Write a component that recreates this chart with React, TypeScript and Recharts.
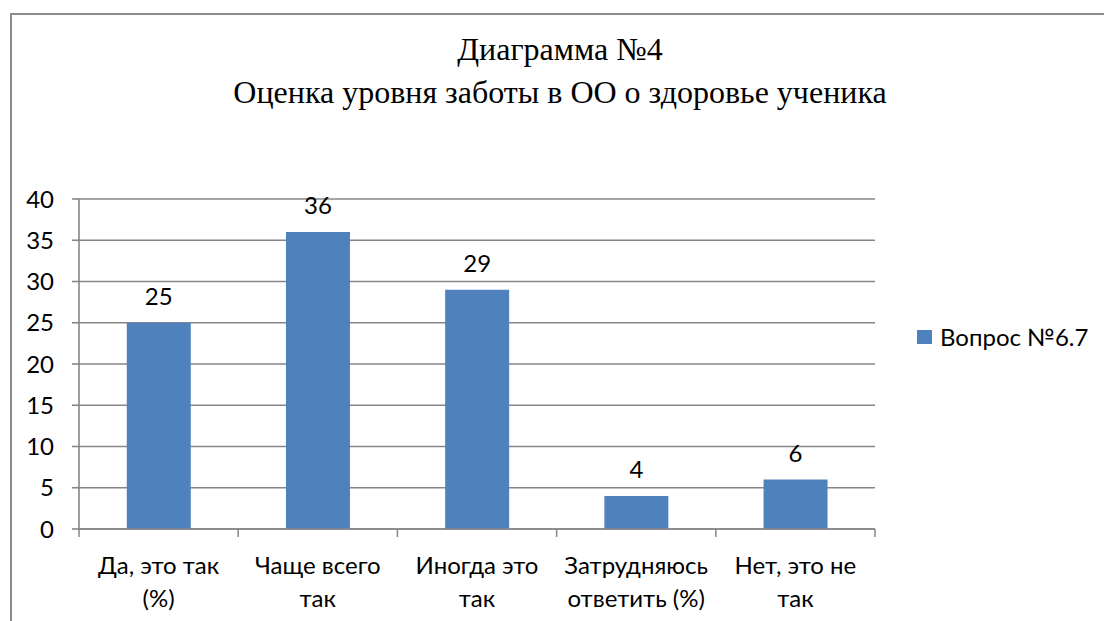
import { BarChart, Bar, XAxis, YAxis, CartesianGrid, LabelList } from "recharts";

const titleLines = ["Диаграмма №4", "Оценка уровня заботы в ОО о здоровье ученика"];
const categories = [
  "Да, это так (%)",
  "Чаще всего так",
  "Иногда это так",
  "Затрудняюсь ответить (%)",
  "Нет, это не так",
];
const tickLines = [
  ["Да, это так", "(%)"],
  ["Чаще всего", "так"],
  ["Иногда это", "так"],
  ["Затрудняюсь", "ответить (%)"],
  ["Нет, это не", "так"],
];
const seriesName = "Вопрос №6.7";
const values = [25, 36, 29, 4, 6];
const yTicks = [0, 5, 10, 15, 20, 25, 30, 35, 40];

const data = categories.map((c, i) => ({ name: c, [seriesName]: values[i] }));

const FONT = "Lato, Carlito, 'Noto Sans', sans-serif";
const FS = 24;
const GRID = "#868686";
const BLUE = "#4f81bd";

function CategoryTick(props: any) {
  const { x, y, payload, index } = props;
  const half = payload.offset ?? 0;
  const lines = tickLines[index] ?? [payload.value];
  const axisY = y - 7;
  return (
    <g>
      <line x1={x - half} x2={x - half} y1={axisY - 1} y2={axisY + 7} stroke={GRID} strokeWidth={1.5} />
      {index === categories.length - 1 && (
        <line x1={x + half} x2={x + half} y1={axisY - 1} y2={axisY + 7} stroke={GRID} strokeWidth={1.5} />
      )}
      {lines.map((l: string, i: number) => (
        <text key={i} x={x} y={axisY + 44 + i * 33} textAnchor="middle" fontFamily={FONT} fontSize={FS} fill="#000">
          {l}
        </text>
      ))}
    </g>
  );
}

export default function App() {
  return (
    <div style={{ position: "absolute", left: 0, top: 0, width: 1104, height: 621, overflow: "hidden", background: "#fff" }}>
      <div
        style={{
          position: "absolute",
          left: 10,
          top: 13,
          width: 1200,
          height: 700,
          borderLeft: "2px solid #8c8c8c",
          borderTop: "2px solid #8c8c8c",
        }}
      />
      <svg width={1104} height={130} style={{ position: "absolute", left: 0, top: 0 }}>
        {titleLines.map((t, i) => (
          <text
            key={i}
            x={560}
            y={60 + i * 43}
            textAnchor="middle"
            style={{ fontFamily: "'Liberation Serif', 'Times New Roman', serif", fontSize: 32 }}
            fill="#000"
          >
            {t}
          </text>
        ))}
      </svg>
      <div style={{ position: "absolute", left: 0, top: 0 }}>
        <BarChart
          width={1104}
          height={621}
          data={data}
          margin={{ top: 199, right: 229, bottom: 0, left: 0 }}
          barCategoryGap="30%"
        >
          <CartesianGrid horizontal vertical={false} stroke={GRID} strokeWidth={1.6} />
          <XAxis
            dataKey="name"
            height={92}
            tickLine={false}
            axisLine={{ stroke: GRID, strokeWidth: 1.6 }}
            tick={<CategoryTick />}
            interval={0}
          />
          <YAxis
            width={79}
            domain={[0, 40]}
            ticks={yTicks}
            interval={0}
            tickSize={7}
            tickMargin={18}
            tickLine={{ stroke: GRID, strokeWidth: 1.6 }}
            axisLine={{ stroke: GRID, strokeWidth: 1.6 }}
            tick={{ fontFamily: FONT, fontSize: FS, fill: "#000" }}
          />
          <Bar dataKey={seriesName} fill={BLUE} isAnimationActive={false}>
            <LabelList dataKey={seriesName} position="top" offset={18} fontFamily={FONT} fontSize={FS} fill="#000" />
          </Bar>
        </BarChart>
      </div>
      <div
        style={{
          position: "absolute",
          left: 917,
          top: 322,
          display: "flex",
          alignItems: "center",
          fontFamily: FONT,
          fontSize: FS,
          whiteSpace: "nowrap",
        }}
      >
        <span style={{ width: 15, height: 14, background: BLUE, display: "inline-block", marginRight: 8 }} />
        <span>{seriesName}</span>
      </div>
    </div>
  );
}
